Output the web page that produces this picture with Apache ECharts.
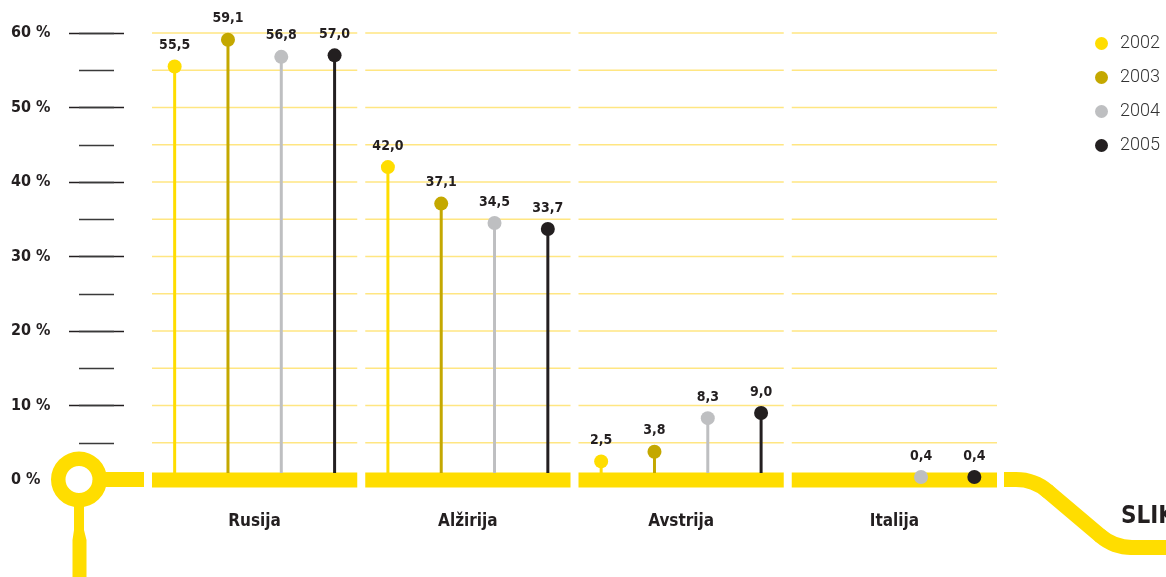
<!DOCTYPE html>
<html>
<head>
<meta charset="utf-8">
<script src="https://cdn.jsdelivr.net/npm/echarts@6/dist/echarts.min.js"></script>
<style>html,body{margin:0;padding:0;background:#fff}#c{width:1166px;height:577px}</style>
</head>
<body>
<div id="c"></div>
<script>
const categories = ['Rusija', 'Alžirija', 'Avstrija', 'Italija'];
const years = ['2002', '2003', '2004', '2005'];
const v2002 = [55.5, 42.0, 2.5, null];
const v2003 = [59.1, 37.1, 3.8, null];
const v2004 = [56.8, 34.5, 8.3, 0.4];
const v2005 = [57.0, 33.7, 9.0, 0.4];
const yMin = 0, yMax = 60, yMajor = 10, yMinor = 5;

const seriesValues = [v2002, v2003, v2004, v2005];
const colors = ['#FFDD00', '#C4A800', '#BEBFC1', '#231F20'];
const YELLOW = '#FFDD00';
const GRIDY = '#FFE682';
const DARK = '#231F20';
const FONT = '"DejaVu Sans Condensed", "DejaVu Sans", sans-serif';

const chart = echarts.init(document.getElementById('c'), null, {renderer: 'canvas'});

function fmt(v) { return v.toFixed(1).replace('.', ','); }

const frameSeries = {
  type: 'custom', xAxisIndex: 0, yAxisIndex: 0, z: 1, silent: true,
  data: categories.map((c, i) => [i, yMax]),
  renderItem: function (params, api) {
    const i = api.value(0);
    const base = api.coord([i, 0]);
    const bw = api.size([1, 0])[0];
    const x0 = base[0] - bw / 2 + 4, x1 = base[0] + bw / 2 - 4;
    const children = [];
    for (let v = yMinor; v <= yMax; v += yMinor) {
      const y = api.coord([i, v])[1];
      children.push({type: 'line', shape: {x1: x0, y1: y, x2: x1, y2: y}, style: {stroke: GRIDY, lineWidth: 1.4}});
    }
    children.push({type: 'rect', shape: {x: x0, y: base[1] - 7.5, width: x1 - x0, height: 15}, style: {fill: YELLOW}});
    return {type: 'group', children: children};
  }
};

const lollies = seriesValues.map((vals, s) => ({
  type: 'custom', name: years[s], xAxisIndex: 0, yAxisIndex: 0, z: 5,
  itemStyle: {color: colors[s]},
  data: vals.map((v, i) => v == null ? null : [i, v]).filter(d => d),
  encode: {x: 0, y: 1},
  renderItem: function (params, api) {
    const i = api.value(0), v = api.value(1);
    const base = api.coord([i, 0]);
    const top = api.coord([i, v]);
    const bw = api.size([1, 0])[0];
    const x = base[0] + (s - 1.5) * bw * 0.25;
    return {type: 'group', children: [
      {type: 'line', shape: {x1: x, y1: base[1] - 7, x2: x, y2: top[1]}, style: {stroke: colors[s], lineWidth: 3}},
      {type: 'circle', shape: {cx: x, cy: top[1], r: 7}, style: {fill: colors[s]}},
      {type: 'text', style: {text: fmt(v), x: x, y: top[1] - 21, align: 'center', verticalAlign: 'middle',
        fill: DARK, font: 'bold 14px ' + FONT}}
    ]};
  }
}));

const option = {
  backgroundColor: '#fff',
  animation: false,
  legend: {
    data: years, orient: 'vertical', left: 1090, top: 28, icon: 'circle',
    itemWidth: 13, itemHeight: 13, itemGap: 13,
    textStyle: {fontFamily: 'Roboto', fontWeight: 300, fontSize: 18, color: '#333', padding: [0, 0, 0, 7], lineHeight: 21}
  },
  grid: [
    {left: 148, right: 165, top: 33, bottom: 97},
    {left: 69, width: 55, top: 33, bottom: 97},
    {left: 79, width: 35, top: 33, bottom: 97}
  ],
  xAxis: [
    {type: 'category', gridIndex: 0, data: categories, axisLine: {show: false}, axisTick: {show: false},
      axisLabel: {margin: 33, fontFamily: FONT, fontWeight: 'bold', fontSize: 17, color: DARK}},
    {type: 'value', gridIndex: 1, show: false},
    {type: 'value', gridIndex: 2, show: false}
  ],
  yAxis: [
    {type: 'value', gridIndex: 0, min: yMin, max: yMax, interval: yMinor, show: false},
    {type: 'value', gridIndex: 1, min: yMin, max: yMax, interval: yMajor,
      axisLine: {show: false}, axisTick: {show: false},
      splitLine: {show: true, lineStyle: {color: DARK, width: 1.4}},
      axisLabel: {show: true, align: 'left', margin: 58, formatter: '{value} %',
        fontFamily: FONT, fontWeight: 'bold', fontSize: 16, color: DARK}},
    {type: 'value', gridIndex: 2, min: yMin, max: yMax, interval: yMinor,
      axisLine: {show: false}, axisTick: {show: false}, axisLabel: {show: false},
      splitLine: {show: true, lineStyle: {color: '#3a3a3a', width: 1.4}}}
  ],
  graphic: [
    {type: 'circle', z: 99, shape: {cx: 79, cy: 479.5, r: 14}, style: {fill: '#fff'}},
    {type: 'ring', z: 100, shape: {cx: 79, cy: 479.5, r: 28, r0: 13.5}, style: {fill: YELLOW}},
    {type: 'rect', z: 100, shape: {x: 100, y: 472, width: 44, height: 15}, style: {fill: YELLOW}},
    {type: 'polygon', z: 100, shape: {points: [[74, 500], [84, 500], [84, 530], [86.5, 540], [86.5, 577], [72.5, 577], [72.5, 540], [74, 530]]}, style: {fill: YELLOW}},
    {type: 'line', z: 100, shape: {x1: 1004, y1: 479.5, x2: 1016, y2: 479.5}, style: {stroke: YELLOW, lineWidth: 15, lineCap: 'butt'}},
    {type: 'bezierCurve', z: 100, shape: {x1: 1016, y1: 479.5, cpx1: 1028, cpy1: 479.5, cpx2: 1038.6, cpy2: 483.4, x2: 1047.7, y2: 491.2},
      style: {stroke: YELLOW, lineWidth: 15, fill: null, lineCap: 'round'}},
    {type: 'line', z: 100, shape: {x1: 1047.7, y1: 491.2, x2: 1100.3, y2: 535.8}, style: {stroke: YELLOW, lineWidth: 15, lineCap: 'round'}},
    {type: 'bezierCurve', z: 100, shape: {x1: 1100.3, y1: 535.8, cpx1: 1109.4, cpy1: 543.6, cpx2: 1120, cpy2: 547.5, x2: 1132, y2: 547.5},
      style: {stroke: YELLOW, lineWidth: 15, fill: null, lineCap: 'round'}},
    {type: 'line', z: 100, shape: {x1: 1132, y1: 547.5, x2: 1170, y2: 547.5}, style: {stroke: YELLOW, lineWidth: 15, lineCap: 'round'}},
    {type: 'text', z: 100, style: {text: 'SLIKA', x: 1121, y: 517, verticalAlign: 'middle', fill: DARK, font: 'bold 24px ' + FONT}}
  ],
  series: [frameSeries].concat(lollies)
};
chart.setOption(option);
</script>
</body>
</html>
